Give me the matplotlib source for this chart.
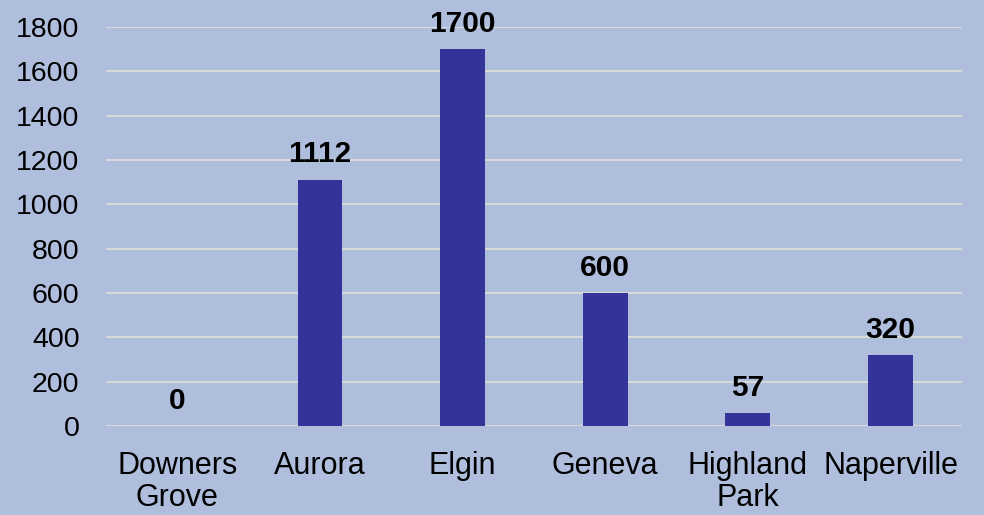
import matplotlib.pyplot as plt
import numpy as np

plt.rcParams['font.family'] = ['Liberation Sans', 'DejaVu Sans']

cities = ["Downers\nGrove", "Aurora", "Elgin", "Geneva", "Highland\nPark", "Naperville"]
counts = [0, 1112, 1700, 600, 57, 320]
yticks = [0, 200, 400, 600, 800, 1000, 1200, 1400, 1600, 1800]

bg = "#aebedc"
bar_col = "#333399"

fig = plt.figure(figsize=(9.84, 5.15), dpi=100, facecolor=bg)
ax = fig.add_axes([0.1077, 0.1728, 0.8699, 0.7748], facecolor=bg)

x = np.arange(len(cities))
bars = ax.bar(x, counts, width=0.315, color=bar_col, zorder=3)

for xi, v in zip(x, counts):
    ax.annotate(str(v), (xi, v), xytext=(0, 8), textcoords="offset points",
                ha="center", va="bottom", fontsize=21.5, fontweight="bold")

ax.set_xlim(-0.5, len(cities) - 0.5)
ax.set_ylim(0, 1800)
ax.set_yticks(yticks)
ax.set_xticks(x)
ax.set_xticklabels(cities, linespacing=1.1)
ax.tick_params(axis="y", length=0, pad=19, labelsize=20.5)
ax.tick_params(axis="x", length=0, pad=18, labelsize=22)
ax.yaxis.grid(True, color="#d9d9d9", linewidth=1.5, zorder=0)
ax.set_axisbelow(True)
for s in ax.spines.values():
    s.set_visible(False)

fig.savefig("out.png", dpi=100, facecolor=bg)
